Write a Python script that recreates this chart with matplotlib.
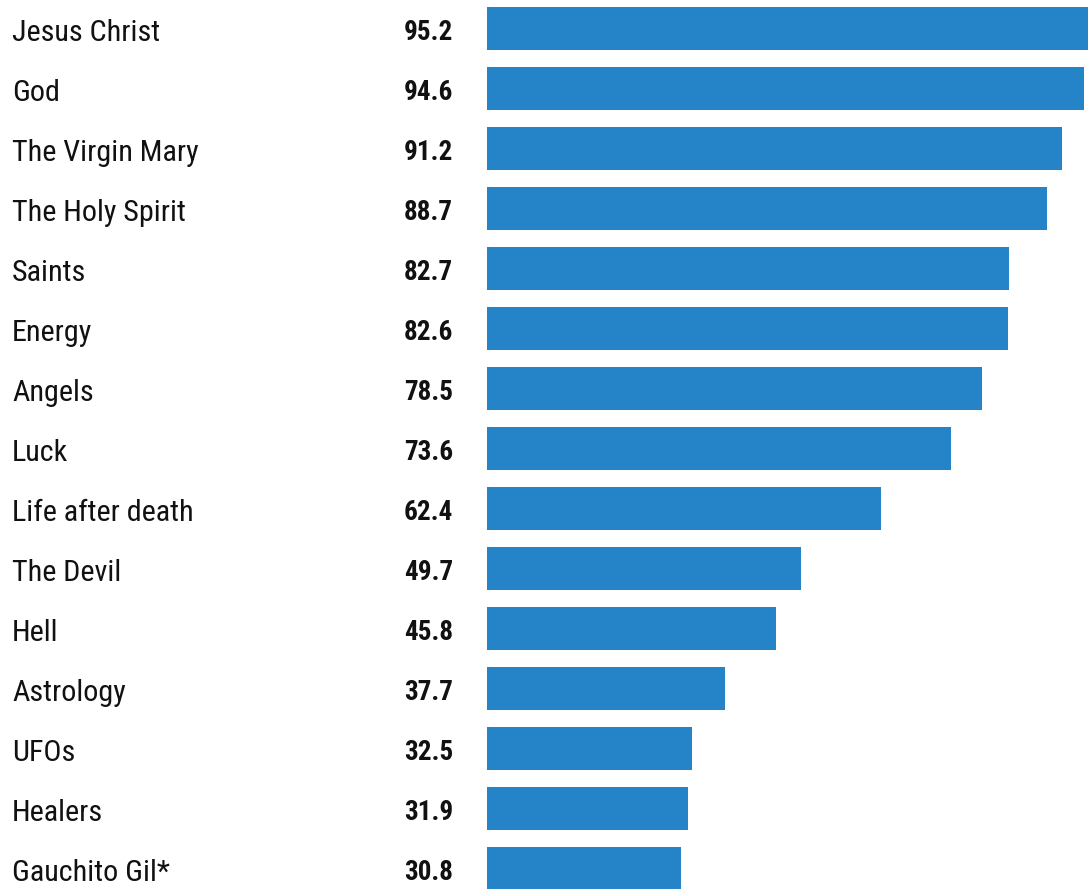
import matplotlib
matplotlib.use("Agg")
import matplotlib.pyplot as plt
from matplotlib import font_manager
from matplotlib.transforms import blended_transform_factory

# categories and values (%)
labels = ["Jesus Christ", "God", "The Virgin Mary", "The Holy Spirit", "Saints",
          "Energy", "Angels", "Luck", "Life after death", "The Devil", "Hell",
          "Astrology", "UFOs", "Healers", "Gauchito Gil*"]
values = [95.2, 94.6, 91.2, 88.7, 82.7, 82.6, 78.5, 73.6, 62.4, 49.7, 45.8,
          37.7, 32.5, 31.9, 30.8]

bar_color = "#2584c8"

names = {f.name for f in font_manager.fontManager.ttflist}
fam = [f for f in ["Roboto Condensed", "Roboto"] if f in names]

W, H = 1091, 889
fig = plt.figure(figsize=(W / 100, H / 100), dpi=100)
ax = fig.add_axes([487 / W, 0, 1 - 487 / W, 1])

y = list(range(len(labels)))
ax.barh(y, values, height=43 / 60, color=bar_color)
ax.set_xlim(0, (W - 487) / 6.31)
ax.set_ylim((H - 28) / 60, -28 / 60)
ax.axis("off")

# names at the left edge, values right-aligned just before the bars
tr = blended_transform_factory(fig.transFigure, ax.transData)
for i, (lab, v) in enumerate(zip(labels, values)):
    fig.text(12 / W, i + 5 / 60, lab, transform=tr, ha="left", va="center",
             fontsize=21.7, family=fam, color="#111111")
    fig.text(453 / W, i + 5 / 60, f"{v:.1f}", transform=tr, ha="right", va="center",
             fontsize=19.5, family=fam, fontweight="bold", color="#111111")

fig.savefig("out.png", dpi=100)
